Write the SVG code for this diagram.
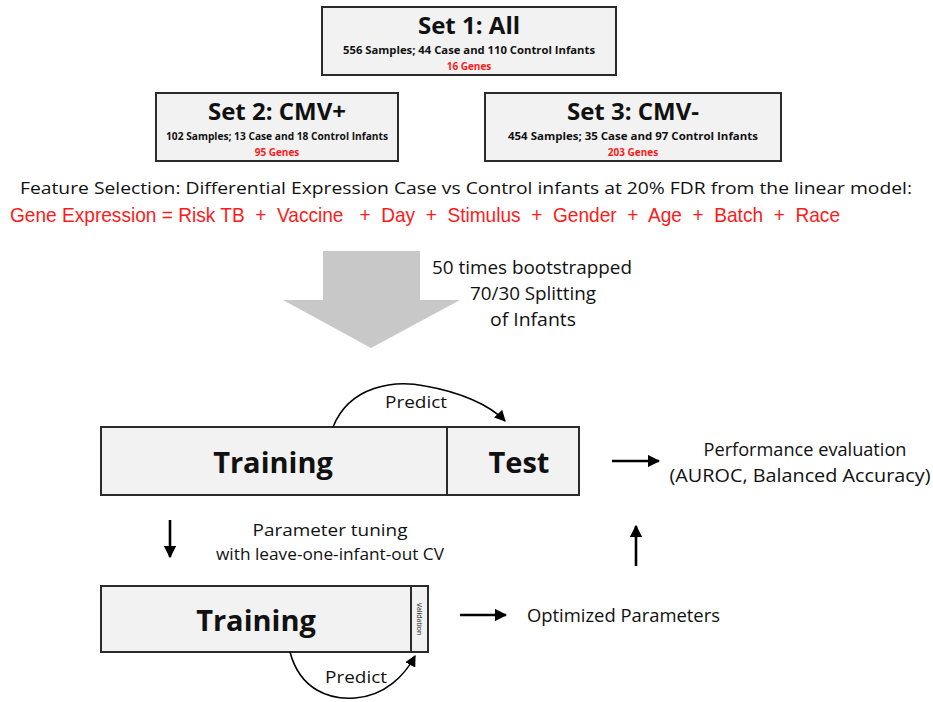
<svg xmlns="http://www.w3.org/2000/svg" width="933" height="702" viewBox="0 0 933 702">
<style>
.box{fill:#f2f2f2;stroke:#2b2b2b;stroke-width:2}
.t{font-family:"Open Sans","Noto Sans",sans-serif;fill:#111}
.b{font-weight:bold}
.red{fill:#ff1a1a}
.ln{stroke:#000;stroke-width:2.6;fill:none}
.arc{stroke:#000;stroke-width:1.6;fill:none}
.f{font-family:"Liberation Sans Narrow","Liberation Sans",sans-serif;fill:#ff1a1a}
</style>
<defs>
<marker id="ah" viewBox="0 0 10 10" refX="9" refY="5" markerWidth="4.8" markerHeight="4.8" orient="auto" markerUnits="strokeWidth">
<path d="M0,0 L10,5 L0,10 z" fill="#000"/>
</marker>
<marker id="ah2" viewBox="0 0 10 10" refX="9" refY="5" markerWidth="7" markerHeight="7" orient="auto" markerUnits="strokeWidth">
<path d="M0,0 L10,5 L0,10 z" fill="#000"/>
</marker>
</defs>
<rect width="933" height="702" fill="#fff"/>

<g id="set1">
<rect class="box" x="322" y="7" width="294" height="68"/>
<text class="t b" x="469" y="34" font-size="24" text-anchor="middle">Set 1: All</text>
<text class="t b" x="469" y="54" font-size="10" text-anchor="middle" textLength="252" lengthAdjust="spacingAndGlyphs">556 Samples; 44 Case and 110 Control Infants</text>
<text class="t b red" x="469" y="70" font-size="10" text-anchor="middle">16 Genes</text>
</g>

<g id="set2">
<rect class="box" x="156" y="93" width="242" height="68"/>
<text class="t b" x="277" y="120" font-size="24" text-anchor="middle">Set 2: CMV+</text>
<text class="t b" x="277" y="140" font-size="10" text-anchor="middle" textLength="222" lengthAdjust="spacingAndGlyphs">102 Samples; 13 Case and 18 Control Infants</text>
<text class="t b red" x="277" y="156" font-size="10" text-anchor="middle">95 Genes</text>
</g>

<g id="set3">
<rect class="box" x="485" y="93" width="296" height="68"/>
<text class="t b" x="633" y="120" font-size="24" text-anchor="middle">Set 3: CMV-</text>
<text class="t b" x="633" y="140" font-size="10" text-anchor="middle" textLength="250" lengthAdjust="spacingAndGlyphs">454 Samples; 35 Case and 97 Control Infants</text>
<text class="t b red" x="633" y="156" font-size="10" text-anchor="middle">203 Genes</text>
</g>

<g id="feature">
<text class="t" x="20" y="194" font-size="16" textLength="892" lengthAdjust="spacingAndGlyphs">Feature Selection: Differential Expression Case vs Control infants at 20% FDR from the linear model:</text>
<text class="f" x="10" y="222" font-size="21" textLength="830" lengthAdjust="spacingAndGlyphs" xml:space="preserve">Gene Expression = Risk TB  +  Vaccine   +  Day  +  Stimulus  +  Gender  +  Age  +  Batch  +  Race</text>
</g>

<g id="bigarrow">
<polygon points="323,251 420,251 420,300 460,300 371,348 283,300 323,300" fill="#c8c8c8"/>
<text class="t" x="532" y="274" font-size="18" text-anchor="middle" textLength="200" lengthAdjust="spacingAndGlyphs">50 times bootstrapped</text>
<text class="t" x="533" y="300" font-size="18" text-anchor="middle" textLength="126" lengthAdjust="spacingAndGlyphs">70/30 Splitting</text>
<text class="t" x="533" y="326" font-size="18" text-anchor="middle" textLength="86" lengthAdjust="spacingAndGlyphs">of Infants</text>
</g>

<g id="traintest">
<rect class="box" x="101" y="427" width="478" height="68"/>
<line x1="447" y1="427" x2="447" y2="495" stroke="#2b2b2b" stroke-width="2"/>
<text class="t b" x="273" y="473" font-size="29" text-anchor="middle">Training</text>
<text class="t b" x="519" y="473" font-size="29" text-anchor="middle">Test</text>
</g>

<g id="perf">
<text class="t" x="805" y="456" font-size="18" text-anchor="middle" textLength="203" lengthAdjust="spacingAndGlyphs">Performance evaluation</text>
<text class="t" x="800" y="482" font-size="18" text-anchor="middle" textLength="261" lengthAdjust="spacingAndGlyphs">(AUROC, Balanced Accuracy)</text>
</g>

<g id="tuning">
<text class="t" x="330" y="536" font-size="17" text-anchor="middle" textLength="155" lengthAdjust="spacingAndGlyphs">Parameter tuning</text>
<text class="t" x="330" y="560" font-size="17" text-anchor="middle" textLength="228" lengthAdjust="spacingAndGlyphs">with leave-one-infant-out CV</text>
</g>

<g id="trainval">
<rect class="box" x="101" y="586" width="327" height="66"/>
<line x1="411" y1="586" x2="411" y2="652" stroke="#2b2b2b" stroke-width="2"/>
<text class="t b" x="256" y="631" font-size="29" text-anchor="middle">Training</text>
<text class="t" x="0" y="0" font-size="7" text-anchor="middle" transform="translate(417,619) rotate(90)">Validation</text>
</g>

<g id="optim">
<text class="t" x="527" y="622" font-size="18" textLength="193" lengthAdjust="spacingAndGlyphs">Optimized Parameters</text>
</g>

<g id="connectors">
<path class="arc" d="M333,427 C350,385 395,380 425,386 C460,392 490,405 505,421" marker-end="url(#ah2)"/>
<text class="t" x="416" y="408" font-size="16" text-anchor="middle" textLength="62" lengthAdjust="spacingAndGlyphs">Predict</text>
<line class="ln" x1="612" y1="461" x2="659" y2="461" marker-end="url(#ah)"/>
<line class="ln" x1="170" y1="520" x2="170" y2="557" marker-end="url(#ah)"/>
<line class="ln" x1="636" y1="566" x2="636" y2="526" marker-end="url(#ah)"/>
<line class="ln" x1="460" y1="615" x2="506" y2="615" marker-end="url(#ah)"/>
<path class="arc" d="M290,652 C300,690 330,700 355,698 C385,696 405,675 415,656" marker-end="url(#ah2)"/>
<text class="t" x="356" y="683" font-size="17" text-anchor="middle" textLength="62" lengthAdjust="spacingAndGlyphs">Predict</text>
</g>
</svg>
